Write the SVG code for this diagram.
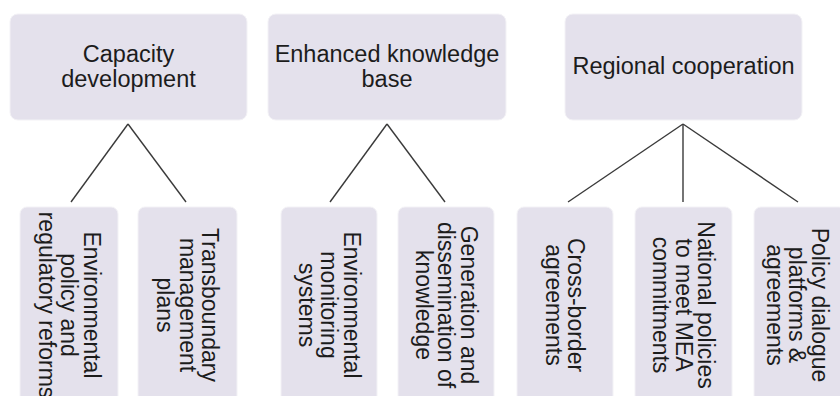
<svg xmlns="http://www.w3.org/2000/svg" width="840" height="396" viewBox="0 0 840 396">
<style>
.box{fill:#E4E1EC;stroke:#f3f2f6;stroke-width:1}
.top{font-family:"Liberation Sans",Arial,sans-serif;font-size:23.5px;fill:#1c1c1c;text-anchor:middle}
.vt{font-family:"Liberation Sans",Arial,sans-serif;font-size:23px;fill:#1c1c1c;text-anchor:middle}
.conn line{stroke:#3a3a3a;stroke-width:1.4;fill:none}
</style>
<rect width="840" height="396" fill="#ffffff"/>
<g class="conn" id="connectors">
<line x1="128" y1="124" x2="71" y2="202"/>
<line x1="128" y1="124" x2="186" y2="202"/>
<line x1="387" y1="124" x2="330" y2="202"/>
<line x1="387" y1="124" x2="445" y2="202"/>
<line x1="683" y1="124" x2="568" y2="202"/>
<line x1="683" y1="124" x2="683" y2="202"/>
<line x1="683" y1="124" x2="798" y2="202"/>
</g>
<g id="capacity">
<rect class="box" x="10" y="14" width="237" height="106" rx="8"/>
<text class="top"><tspan x="128.5" y="62">Capacity</tspan><tspan x="128.5" y="87">development</tspan></text>
</g>
<g id="knowledge">
<rect class="box" x="268" y="14" width="238" height="106" rx="8"/>
<text class="top"><tspan x="387" y="62">Enhanced knowledge</tspan><tspan x="387" y="87">base</tspan></text>
</g>
<g id="regional">
<rect class="box" x="565" y="14" width="237" height="106" rx="8"/>
<text class="top" x="683.5" y="74">Regional cooperation</text>
</g>
<g id="env-policy">
<rect class="box" x="20" y="207" width="98" height="200" rx="7"/>
<text class="vt" transform="translate(69,305) rotate(90)"><tspan x="0" y="-14.5">Environmental</tspan><tspan x="0" y="8">policy and</tspan><tspan x="0" y="30.5">regulatory reforms</tspan></text>
</g>
<g id="transboundary">
<rect class="box" x="138" y="207" width="99" height="200" rx="7"/>
<text class="vt" transform="translate(187.5,305) rotate(90)"><tspan x="0" y="-14.5">Transboundary</tspan><tspan x="0" y="8">management</tspan><tspan x="0" y="30.5">plans</tspan></text>
</g>
<g id="monitoring">
<rect class="box" x="281" y="207" width="96" height="200" rx="7"/>
<text class="vt" transform="translate(329,305) rotate(90)"><tspan x="0" y="-14.5">Environmental</tspan><tspan x="0" y="8">monitoring</tspan><tspan x="0" y="30.5">systems</tspan></text>
</g>
<g id="generation">
<rect class="box" x="398" y="207" width="96" height="200" rx="7"/>
<text class="vt" transform="translate(446,305) rotate(90)"><tspan x="0" y="-14.5">Generation and</tspan><tspan x="0" y="8">dissemination of</tspan><tspan x="0" y="30.5">knowledge</tspan></text>
</g>
<g id="cross-border">
<rect class="box" x="517" y="207" width="96" height="200" rx="7"/>
<text class="vt" transform="translate(565,305) rotate(90)"><tspan x="0" y="-3.25">Cross-border</tspan><tspan x="0" y="19.25">agreements</tspan></text>
</g>
<g id="national">
<rect class="box" x="635" y="207" width="97" height="200" rx="7"/>
<text class="vt" transform="translate(683.5,305) rotate(90)"><tspan x="0" y="-14.5">National policies</tspan><tspan x="0" y="8">to meet MEA</tspan><tspan x="0" y="30.5">commitments</tspan></text>
</g>
<g id="policy-dialogue">
<rect class="box" x="754" y="207" width="92" height="200" rx="7"/>
<text class="vt" transform="translate(797,305) rotate(90)"><tspan x="0" y="-14.5">Policy dialogue</tspan><tspan x="0" y="8">platforms &amp;</tspan><tspan x="0" y="30.5">agreements</tspan></text>
</g>
</svg>
